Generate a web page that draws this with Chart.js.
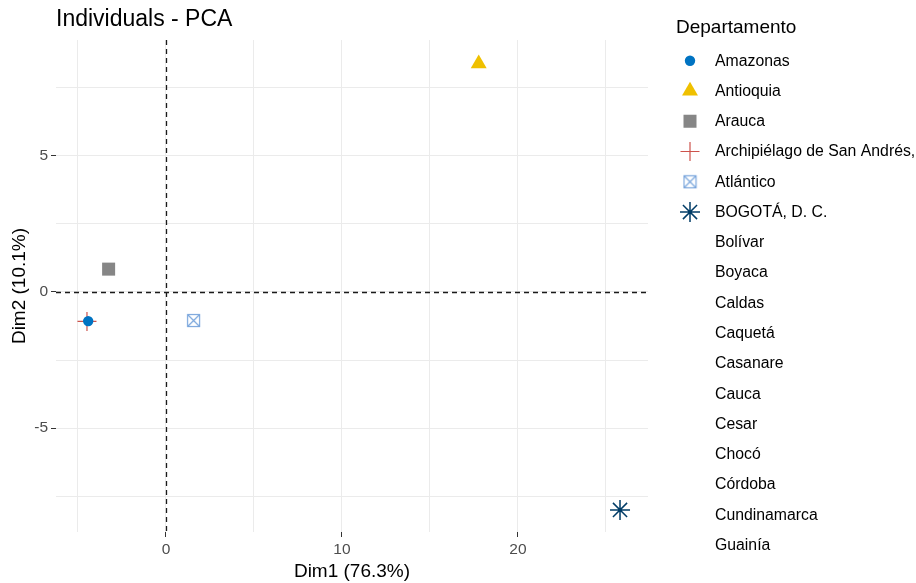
<!DOCTYPE html>
<html>
<head>
<meta charset="utf-8">
<title>Individuals - PCA</title>
<script src="https://cdn.jsdelivr.net/npm/chart.js@4/dist/chart.umd.min.js"></script>
<style>
  html, body { margin: 0; padding: 0; background: #ffffff; }
  canvas { display: block; }
</style>
</head>
<body>
<canvas id="pca" width="916" height="583"></canvas>
<script>
// Departments in the legend (only the first six carry a marker)
const departamentos = [
  'Amazonas', 'Antioquia', 'Arauca', 'Archipiélago de San Andrés,', 'Atlántico',
  'BOGOTÁ, D. C.', 'Bolívar', 'Boyaca', 'Caldas', 'Caquetá', 'Casanare', 'Cauca',
  'Cesar', 'Chocó', 'Córdoba', 'Cundinamarca', 'Guainía'
];
// Individual coordinates on the first two principal dimensions
const dim1 = [-4.42, 17.77, -3.26, -4.49, 1.57, 25.8];
const dim2 = [-1.07, 8.39, 0.84, -1.08, -1.05, -8.01];
// Labelled ticks
const xTickLabels = [0, 10, 20];
const yTickLabels = [-5, 0, 5];
// Marker colours per department
const colores = ['#0073C2', '#EFC000', '#868686', '#CD534C', '#7AA6DC', '#003C67'];

const FONT = '"Liberation Sans", Arial, Helvetica, sans-serif';
Chart.defaults.font.family = FONT;

// square with a cross inside (used for Atlántico)
function squareCross(color) {
  const c = document.createElement('canvas');
  c.width = 15; c.height = 15;
  const g = c.getContext('2d');
  g.strokeStyle = color;
  g.lineWidth = 1.2;
  g.strokeRect(1.5, 1.5, 12, 12);
  g.beginPath();
  g.moveTo(2, 2); g.lineTo(13, 13);
  g.moveTo(13, 2); g.lineTo(2, 13);
  g.stroke();
  return c;
}

const estilos = [
  { pointStyle: 'circle',   pointRadius: 5.2, pointBorderWidth: 0 },
  { pointStyle: 'triangle', pointRadius: 9.2, pointBorderWidth: 0 },
  { pointStyle: 'rect',     pointRadius: 9.2, pointBorderWidth: 0 },
  { pointStyle: 'cross',    pointRadius: 9.5, pointBorderWidth: 1.2 },
  { pointStyle: squareCross(colores[4]), pointRadius: 7, pointBorderWidth: 0 },
  { pointStyle: 'star',     pointRadius: 10,  pointBorderWidth: 1.5 }
];

const datasets = departamentos.map((nombre, i) => {
  const tieneMarca = i < dim1.length;
  return {
    label: nombre,
    data: tieneMarca ? [{ x: dim1[i], y: dim2[i] }] : [],
    backgroundColor: tieneMarca ? colores[i] : 'rgba(0,0,0,0)',
    borderColor: tieneMarca ? colores[i] : 'rgba(0,0,0,0)',
    pointStyle: tieneMarca ? estilos[i].pointStyle : false,
    pointRadius: tieneMarca ? estilos[i].pointRadius : 0,
    pointHoverRadius: tieneMarca ? estilos[i].pointRadius : 0,
    pointBorderWidth: tieneMarca ? estilos[i].pointBorderWidth : 0
  };
});

// dashed reference lines through the origin
const zeroLines = {
  id: 'zeroLines',
  beforeDatasetsDraw(chart) {
    const { ctx, chartArea, scales } = chart;
    const x0 = Math.round(scales.x.getPixelForValue(0)) + 0.5;
    const y0 = Math.round(scales.y.getPixelForValue(0)) + 0.5;
    ctx.save();
    ctx.strokeStyle = '#1A1A1A';
    ctx.lineWidth = 1.3;
    ctx.setLineDash([5, 4]);
    ctx.beginPath();
    ctx.moveTo(x0, chartArea.top);
    ctx.lineTo(x0, chartArea.bottom);
    ctx.moveTo(chartArea.left, y0);
    ctx.lineTo(chartArea.right, y0);
    ctx.stroke();
    ctx.restore();
  }
};

// legend: title and one row per department
const departmentLegend = {
  id: 'departmentLegend',
  afterDraw(chart) {
    const ctx = chart.ctx;
    const left = 676, markerX = 690, textX = 715, firstY = 60.7, step = 30.27;
    ctx.save();
    ctx.textAlign = 'left';
    ctx.textBaseline = 'middle';
    ctx.fillStyle = '#000000';
    ctx.font = '19px ' + FONT;
    ctx.fillText('Departamento', left, 27.5);
    ctx.font = '15.8px ' + FONT;
    chart.data.datasets.forEach((ds, i) => {
      const y = firstY + i * step;
      if (ds.pointStyle) {
        ctx.save();
        ctx.fillStyle = ds.backgroundColor;
        ctx.strokeStyle = ds.borderColor;
        ctx.lineWidth = ds.pointBorderWidth;
        Chart.helpers.drawPoint(ctx, {
          pointStyle: ds.pointStyle,
          radius: ds.pointRadius,
          rotation: 0,
          borderWidth: ds.pointBorderWidth
        }, markerX, y);
        ctx.restore();
      }
      ctx.fillStyle = '#000000';
      ctx.fillText(ds.label, textX, y + 0.5);
    });
    ctx.restore();
  }
};

const gridColor = '#EBEBEB';

new Chart(document.getElementById('pca'), {
  type: 'scatter',
  data: { datasets },
  plugins: [zeroLines, departmentLegend],
  options: {
    responsive: false,
    animation: false,
    layout: { padding: { left: 0, right: 268, top: 0, bottom: 0 } },
    plugins: {
      legend: { display: false },
      tooltip: { enabled: false },
      title: {
        display: true,
        text: 'Individuals - PCA',
        align: 'start',
        fullSize: false,
        color: '#000000',
        font: { size: 23, weight: 'normal', family: FONT },
        padding: { top: 6, bottom: 6.4 }
      }
    },
    scales: {
      x: {
        type: 'linear',
        position: 'bottom',
        min: -6.25,
        max: 27.39,
        border: { display: false },
        grid: {
          color: gridColor,
          lineWidth: 1,
          tickLength: 5,
          tickWidth: 1,
          tickColor: (c) => (c.tick && xTickLabels.includes(c.tick.value)) ? '#333333' : 'rgba(0,0,0,0)'
        },
        ticks: {
          stepSize: 5,
          includeBounds: false,
          autoSkip: false,
          maxRotation: 0,
          padding: 3,
          color: '#4D4D4D',
          font: { size: 15.5 },
          callback: (v) => xTickLabels.includes(v) ? String(v) : ''
        },
        title: {
          display: true,
          text: 'Dim1 (76.3%)',
          color: '#000000',
          font: { size: 19 },
          padding: { top: 0, bottom: 0 }
        },
        afterFit: (s) => { s.height = 51; }
      },
      y: {
        type: 'linear',
        min: -8.82,
        max: 9.26,
        border: { display: false },
        grid: {
          color: gridColor,
          lineWidth: 1,
          tickLength: 5,
          tickWidth: 1,
          tickColor: (c) => (c.tick && yTickLabels.includes(c.tick.value)) ? '#333333' : 'rgba(0,0,0,0)'
        },
        ticks: {
          stepSize: 2.5,
          includeBounds: false,
          autoSkip: false,
          padding: 3,
          color: '#4D4D4D',
          font: { size: 15.5 },
          callback: (v) => yTickLabels.includes(v) ? String(v) : ''
        },
        title: {
          display: true,
          text: 'Dim2 (10.1%)',
          color: '#000000',
          font: { size: 19 },
          padding: { top: 8, bottom: 0 }
        },
        afterFit: (s) => { s.width = 56; }
      }
    }
  }
});
</script>
</body>
</html>
